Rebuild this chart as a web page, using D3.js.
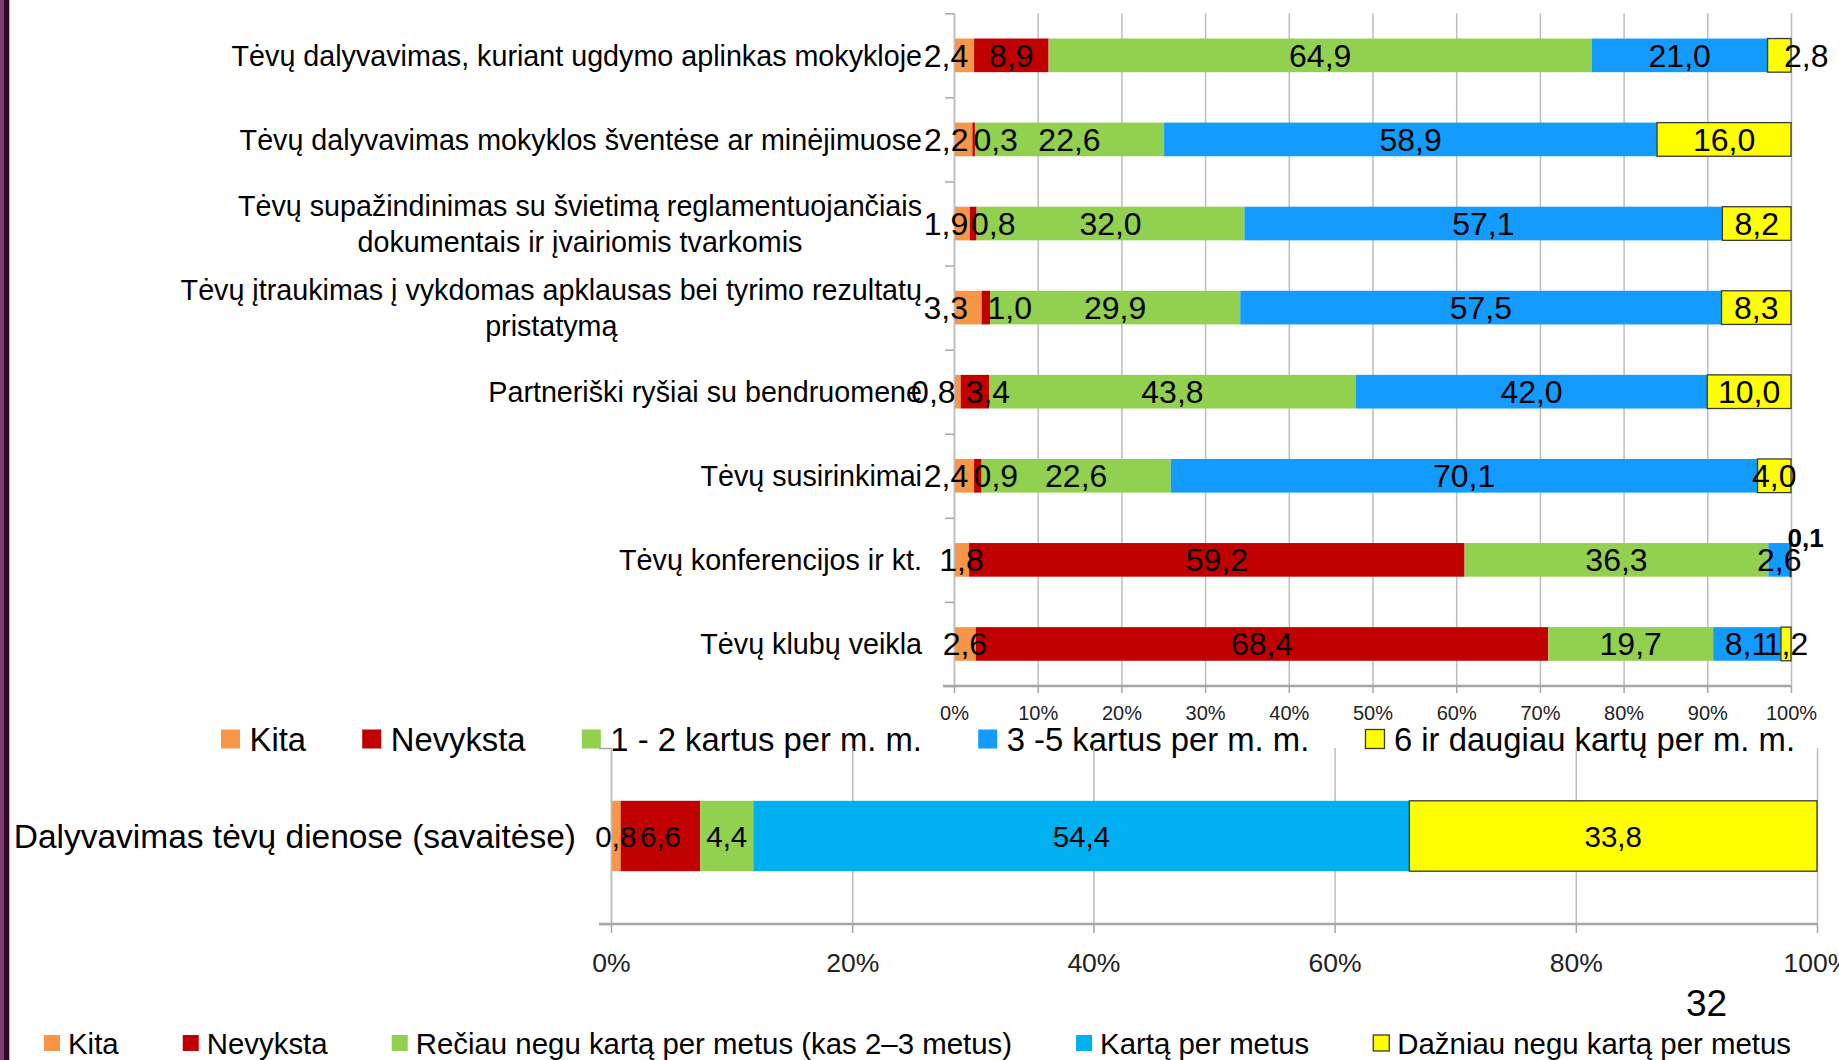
<!DOCTYPE html>
<meta charset="utf-8">
<style>
body { margin: 0; background: #fff; }
svg text { font-family: "Liberation Sans", Arial, sans-serif; fill: #000; }
.grid line { stroke: #bdbdbd; stroke-width: 1.5px; }
.grid path { display: none; }
.ticks text { fill: #222; }
</style>
<body>
<svg width="1839" height="1060"></svg>

<script src="https://cdn.jsdelivr.net/npm/d3@7"></script>
<script>

// ---- data: upper chart (percent of answers) ----
var categories = [
  "Tėvų dalyvavimas, kuriant ugdymo aplinkas mokykloje",
  "Tėvų dalyvavimas mokyklos šventėse ar minėjimuose",
  "Tėvų supažindinimas su švietimą reglamentuojančiais\ndokumentais ir įvairiomis tvarkomis",
  "Tėvų įtraukimas į vykdomas apklausas bei tyrimo rezultatų\npristatymą",
  "Partneriški ryšiai su bendruomene",
  "Tėvų susirinkimai",
  "Tėvų konferencijos ir kt.",
  "Tėvų klubų veikla"
];
var seriesNames = ["Kita", "Nevyksta", "1 - 2 kartus per m. m.", "3 -5 kartus per m. m.", "6 ir daugiau kartų per m. m."];
var kita      = [2.4, 2.2, 1.9, 3.3, 0.8, 2.4, 1.8, 2.6];
var nevyksta  = [8.9, 0.3, 0.8, 1.0, 3.4, 0.9, 59.2, 68.4];
var kartus12  = [64.9, 22.6, 32.0, 29.9, 43.8, 22.6, 36.3, 19.7];
var kartus35  = [21.0, 58.9, 57.1, 57.5, 42.0, 70.1, 2.6, 8.1];
var kartus6   = [2.8, 16.0, 8.2, 8.3, 10.0, 4.0, 0.1, 1.2];
var topTicks  = [0, 10, 20, 30, 40, 50, 60, 70, 80, 90, 100];

// ---- data: lower chart ----
var dienosCategory = "Dalyvavimas tėvų dienose (savaitėse)";
var dienosNames  = ["Kita", "Nevyksta", "Rečiau negu kartą per metus (kas 2–3 metus)", "Kartą per metus", "Dažniau negu kartą per metus"];
var dienosValues = [0.8, 6.6, 4.4, 54.4, 33.8];
var bottomTicks  = [0, 20, 40, 60, 80, 100];

var pageNumber = "32";

// colours
var topColors    = ["#f79646", "#c00000", "#92d050", "#139bff", "#ffff00"];
var bottomColors = ["#f79646", "#c00000", "#92d050", "#00b0f0", "#ffff00"];

// hand-moved data labels of the original (row-series : [dx, dy])
var labelNudge = {
  "0-0": [-18, 0], "0-4": [27, 0],
  "1-0": [-17, 0], "1-1": [22, 0],
  "2-0": [-16, 0], "2-1": [20, 0],
  "3-0": [-22, 0], "3-1": [24, 0],
  "4-0": [-24, 0], "4-1": [13, 0],
  "5-0": [-18, 0], "5-1": [18, 0],
  "6-4": [15, -22.5]
};

var svg = d3.select("svg");
var fmt = function(v) { return d3.format(".1f")(v).replace(".", ","); };

// slide border on the left
svg.append("rect").attr("x", 0).attr("y", 0).attr("width", 4).attr("height", 1060).attr("fill", "#7b3b70");
svg.append("rect").attr("x", 4).attr("y", 0).attr("width", 5).attr("height", 1060).attr("fill", "#2e0b2b");
svg.append("rect").attr("x", 9).attr("y", 0).attr("width", 1).attr("height", 1060).attr("fill", "#c9abc4");

// ================= upper chart =================
var T = {left: 954, right: 1791, top: 13.3, bottom: 686};

var x = d3.scaleLinear().domain([0, 100]).range([T.left, T.right]);
var y = d3.scaleBand().domain(d3.range(categories.length)).range([T.top, T.bottom]);
var barH = y.bandwidth() * 0.4;

var series = [kita, nevyksta, kartus12, kartus35, kartus6];
var rows = categories.map(function(c, i) {
  var r = {};
  series.forEach(function(s, k) { r[k] = s[i]; });
  return r;
});
var stacked = d3.stack().keys(d3.range(series.length))(rows);

// gridlines
svg.append("g")
    .attr("class", "grid")
    .attr("transform", "translate(0," + T.bottom + ")")
    .call(d3.axisBottom(x).tickValues(topTicks).tickSize(-(T.bottom - T.top)).tickFormat(""));

// bars
var layer = svg.append("g").selectAll("g")
  .data(stacked)
  .enter().append("g")
    .attr("fill", function(d) { return topColors[d.key]; })
    .attr("stroke", function(d) { return d.key == 4 ? "#3a3a3a" : "none"; })
    .attr("stroke-width", 1.3);

layer.selectAll("rect")
  .data(function(d) { return d; })
  .enter().append("rect")
    .attr("x", function(d) { return x(d[0]); })
    .attr("width", function(d) { return x(d[1]) - x(d[0]); })
    .attr("y", function(d, i) { return y(i) + (y.bandwidth() - barH) / 2; })
    .attr("height", barH);

// category axis (left) with ticks at band edges
var yEdges = d3.scaleLinear().domain([0, categories.length]).range([T.top, T.bottom]);
var yAxis = svg.append("g")
    .attr("transform", "translate(" + T.left + ",0)")
    .call(d3.axisLeft(yEdges).tickValues(d3.range(categories.length + 1)).tickSize(9).tickSizeOuter(0).tickFormat(""));
yAxis.selectAll("line").attr("stroke", "#a6a6a6").attr("stroke-width", 1.5);
yAxis.select(".domain").attr("stroke", "#bdbdbd").attr("stroke-width", 1.5);

// value axis (bottom)
var xAxis = svg.append("g")
    .attr("class", "ticks")
    .attr("transform", "translate(0," + T.bottom + ")")
    .call(d3.axisBottom(x).tickValues(topTicks).tickSize(7).tickSizeOuter(0).tickPadding(13)
      .tickFormat(function(d) { return d + "%"; }));
xAxis.select(".domain").attr("stroke", "#a6a6a6").attr("stroke-width", 2.5)
    .attr("d", "M" + (T.left - 11) + ",0H" + T.right);
xAxis.selectAll("line").attr("stroke", "#a6a6a6").attr("stroke-width", 1.5);
xAxis.selectAll("text").style("font-size", "20px").style("font-family", "Liberation Sans, Arial, sans-serif");

// data labels
var labels = svg.append("g");
stacked.forEach(function(s) {
  s.forEach(function(d, i) {
    var n = labelNudge[i + "-" + s.key] || [0, 0];
    var special = (i == 6 && s.key == 4);
    labels.append("text")
        .attr("x", x((d[0] + d[1]) / 2) + n[0])
        .attr("y", y(i) + y.bandwidth() / 2 + n[1])
        .attr("dy", "0.36em")
        .attr("text-anchor", "middle")
        .style("font-size", special ? "26px" : "32px")
        .style("font-weight", special ? "bold" : "normal")
        .text(fmt(d[1] - d[0]));
  });
});

// category labels (right aligned block, lines centred inside)
var catG = svg.append("g");
categories.forEach(function(c, i) {
  var lines = c.split("\n");
  var cy = y(i) + y.bandwidth() / 2;
  var g = catG.append("g");
  var texts = lines.map(function(l, j) {
    return g.append("text")
        .attr("y", cy + (j - (lines.length - 1) / 2) * 36)
        .attr("dy", "0.36em")
        .style("font-size", "28.7px")
        .text(l);
  });
  var w = d3.max(texts, function(t) { return t.node().getComputedTextLength(); });
  texts.forEach(function(t) {
    t.attr("text-anchor", "middle").attr("x", 922 - w / 2);
  });
});

// legend spread between x0 and x1
function legend(names, colors, x0, x1, cy, box, fontSize) {
  var g = svg.append("g");
  var items = names.map(function(n, k) {
    var it = g.append("g");
    it.append("rect")
        .attr("y", cy - box / 2)
        .attr("width", box).attr("height", box)
        .attr("fill", colors[k])
        .attr("stroke", k == 4 ? "#3a3a3a" : "none")
        .attr("stroke-width", 1.3);
    var t = it.append("text")
        .attr("x", box * 1.5)
        .attr("y", cy)
        .attr("dy", "0.36em")
        .style("font-size", fontSize + "px")
        .text(n);
    return {g: it, w: box * 1.5 + t.node().getComputedTextLength()};
  });
  var gap = (x1 - x0 - d3.sum(items, function(d) { return d.w; })) / (items.length - 1);
  var pos = x0;
  items.forEach(function(d) {
    d.g.attr("transform", "translate(" + pos + ",0)");
    pos += d.w + gap;
  });
}
legend(seriesNames, topColors, 221, 1795, 739, 19, 32.8);

// ================= lower chart =================
var B = {left: 611, right: 1817, top: 748, bottom: 924};
var bx = d3.scaleLinear().domain([0, 100]).range([B.left, B.right]);
var bBarH = (B.bottom - B.top) * 0.4;
var bCy = (B.top + B.bottom) / 2;

svg.append("g")
    .attr("class", "grid")
    .attr("transform", "translate(0," + B.bottom + ")")
    .call(d3.axisBottom(bx).tickValues(bottomTicks).tickSize(-(B.bottom - B.top)).tickFormat(""))
    .selectAll("line").attr("stroke", "#c8c8c8").attr("stroke-width", 1.2);

var bStack = d3.stack().keys(d3.range(dienosValues.length))([dienosValues.reduce(function(o, v, k) { o[k] = v; return o; }, {})]);

svg.append("g").selectAll("rect")
  .data(bStack)
  .enter().append("rect")
    .attr("x", function(d) { return bx(d[0][0]); })
    .attr("width", function(d) { return bx(d[0][1]) - bx(d[0][0]); })
    .attr("y", bCy - bBarH / 2)
    .attr("height", bBarH)
    .attr("fill", function(d) { return bottomColors[d.key]; })
    .attr("stroke", function(d) { return d.key == 4 ? "#3a3a3a" : "none"; })
    .attr("stroke-width", 1.3);

var bEdges = d3.scaleLinear().domain([0, 1]).range([B.top, B.bottom]);
var bY = svg.append("g")
    .attr("transform", "translate(" + B.left + ",0)")
    .call(d3.axisLeft(bEdges).tickValues([0, 1]).tickSize(12).tickSizeOuter(0).tickFormat(""));
bY.selectAll("line").attr("stroke", "#a6a6a6").attr("stroke-width", 1.5);
bY.select(".domain").attr("stroke", "#bdbdbd").attr("stroke-width", 1.5);

var bX = svg.append("g")
    .attr("class", "ticks")
    .attr("transform", "translate(0," + B.bottom + ")")
    .call(d3.axisBottom(bx).tickValues(bottomTicks).tickSize(9).tickSizeOuter(0).tickPadding(20)
      .tickFormat(function(d) { return d + "%"; }));
bX.select(".domain").attr("stroke", "#a6a6a6").attr("stroke-width", 2.5)
    .attr("d", "M" + (B.left - 12) + ",0H" + B.right);
bX.selectAll("line").attr("stroke", "#a6a6a6").attr("stroke-width", 1.5);
bX.selectAll("text").style("font-size", "26.5px").style("font-family", "Liberation Sans, Arial, sans-serif").attr("fill", "#000");

svg.append("g").selectAll("text")
  .data(bStack)
  .enter().append("text")
    .attr("x", function(d) { return bx((d[0][0] + d[0][1]) / 2); })
    .attr("y", bCy)
    .attr("dy", "0.36em")
    .attr("text-anchor", "middle")
    .style("font-size", "29.5px")
    .text(function(d) { return fmt(d[0][1] - d[0][0]); });

svg.append("text")
    .attr("x", 576)
    .attr("y", bCy)
    .attr("dy", "0.36em")
    .attr("text-anchor", "end")
    .style("font-size", "33.5px")
    .text(dienosCategory);

legend(dienosNames, bottomColors, 44, 1791, 1043, 16, 29.4);

svg.append("text")
    .attr("x", 1686)
    .attr("y", 1016)
    .style("font-size", "37px")
    .text(pageNumber);

</script>
</body>
